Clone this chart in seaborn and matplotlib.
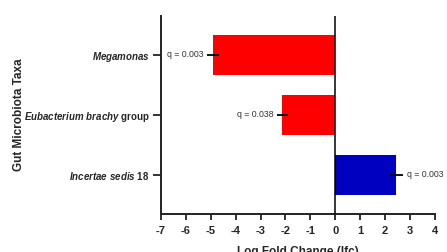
import numpy as np
import pandas as pd
import matplotlib
matplotlib.use('Agg')
import matplotlib.pyplot as plt
import seaborn as sns

# data
taxa = [r'$\mathit{Megamonas}$',
        r'$\mathit{Eubacterium\ brachy}$ group',
        r'$\mathit{Incertae\ sedis}$ 18']
lfc = [-4.91, -2.13, 2.44]
lfc_err = [0.25, 0.23, 0.26]
q_labels = ['q = 0.003', 'q = 0.038', 'q = 0.003']
bar_colors = ['#FF0000', '#FF0000', '#0000C0']
x_ticks = list(range(-7, 5))

sns.set_style('white')
plt.rcParams['font.family'] = ['Liberation Sans', 'DejaVu Sans']
plt.rcParams['mathtext.fontset'] = 'custom'
plt.rcParams['mathtext.it'] = 'Liberation Sans:bold:italic'
plt.rcParams['mathtext.rm'] = 'Liberation Sans:bold'

df = pd.DataFrame({'taxa': taxa, 'lfc': lfc})

fig = plt.figure(figsize=(4.47, 2.52), dpi=100)
ax = fig.add_axes([0.360, 0.151, 0.613, 0.786])

sns.barplot(data=df, x='lfc', y='taxa', hue='taxa', palette=bar_colors,
            orient='h', width=0.667, legend=False, ax=ax, saturation=1,
            edgecolor='none')

# error bars + q labels
ypos = np.arange(len(taxa))
ax.errorbar(lfc, ypos, xerr=lfc_err, fmt='none', ecolor='black',
            elinewidth=1.3, capsize=0)
for y, v, e, q in zip(ypos, lfc, lfc_err, q_labels):
    if v < 0:
        ax.annotate(q, (v - e, y), xytext=(-2, 0), textcoords='offset points',
                    ha='right', va='center', fontsize=6.3, color='#333333')
    else:
        ax.annotate(q, (v + e, y), xytext=(3, 0), textcoords='offset points',
                    ha='left', va='center', fontsize=6.3, color='#333333')

ax.axvline(0, color='black', lw=1.1, zorder=3)

ax.set_xlim(-7, 4)
ax.set_ylim(2.65, -0.65)
ax.set_xticks(x_ticks)
ax.set_xticklabels([str(t) for t in x_ticks], fontweight='bold', fontsize=8)
for lab in ax.get_yticklabels():
    lab.set_fontweight('bold')
    lab.set_fontsize(7)

ax.set_xlabel('Log Fold Change (lfc)', fontweight='bold', fontsize=8.5, labelpad=7)
ax.set_ylabel('Gut Microbiota Taxa', fontweight='bold', fontsize=8.5)
ax.yaxis.set_label_coords(-0.497, 0.5)

sns.despine(ax=ax)
for s in ['left', 'bottom']:
    ax.spines[s].set_linewidth(1.4)
    ax.spines[s].set_color('#222222')
ax.tick_params(axis='x', direction='out', length=4, width=1.3, color='#222222',
               bottom=True, pad=5)
ax.tick_params(axis='y', direction='out', length=6, width=1.3, color='#222222',
               left=True, pad=2)

fig.savefig('out.png', dpi=100)
